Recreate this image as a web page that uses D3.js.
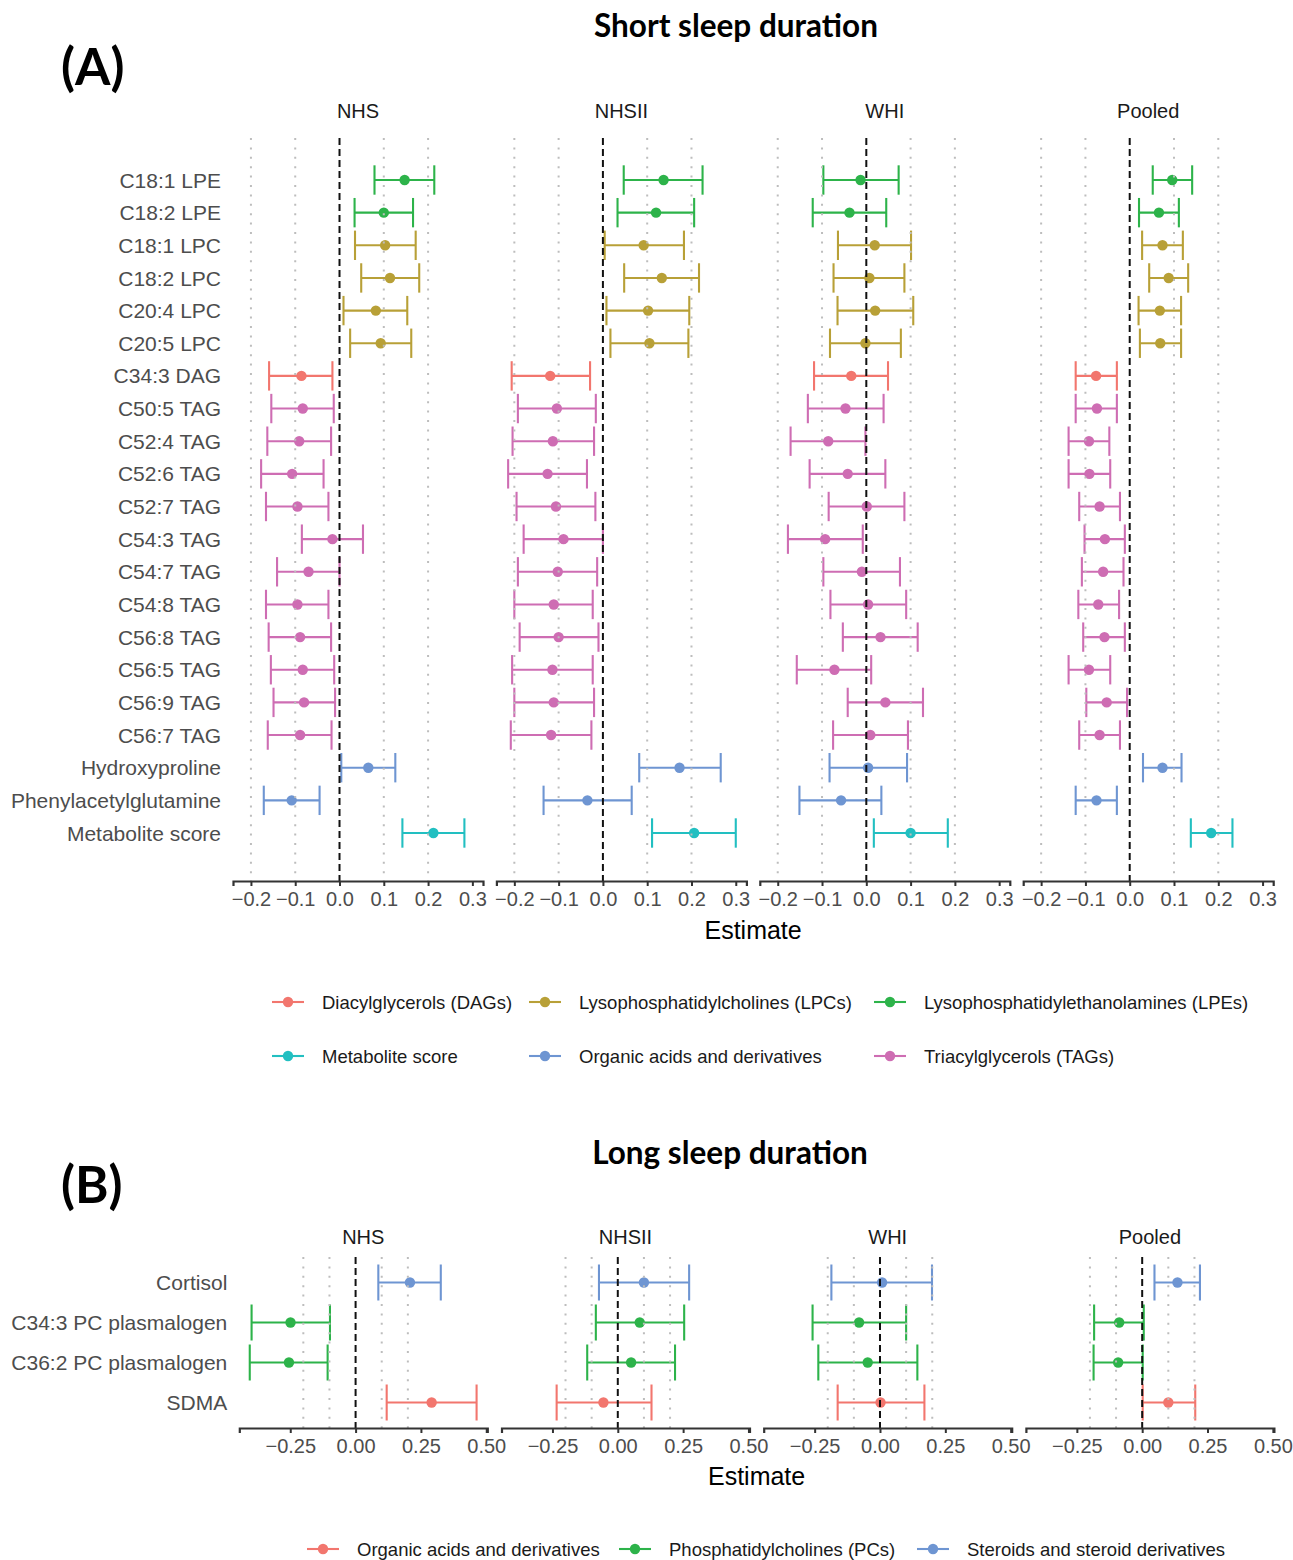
<!DOCTYPE html>
<html><head><meta charset="utf-8">
<script src="https://cdn.jsdelivr.net/npm/d3@7"></script>
<style>body{margin:0;background:#fff} svg{display:block}</style>
</head><body>
<script>
// ---------------- DATA ----------------
const cohorts = ["NHS", "NHSII", "WHI", "Pooled"];

// Panel A: short sleep duration
const metabolitesA = ["C18:1 LPE","C18:2 LPE","C18:1 LPC","C18:2 LPC","C20:4 LPC","C20:5 LPC",
  "C34:3 DAG","C50:5 TAG","C52:4 TAG","C52:6 TAG","C52:7 TAG","C54:3 TAG","C54:7 TAG","C54:8 TAG",
  "C56:8 TAG","C56:5 TAG","C56:9 TAG","C56:7 TAG","Hydroxyproline","Phenylacetylglutamine","Metabolite score"];
const classA = ["LPE","LPE","LPC","LPC","LPC","LPC","DAG","TAG","TAG","TAG","TAG","TAG","TAG","TAG",
  "TAG","TAG","TAG","TAG","ORG","ORG","SCORE"];
const classKeysA = ["DAG","LPC","LPE","SCORE","ORG","TAG"];
const classNamesA = ["Diacylglycerols (DAGs)","Lysophosphatidylcholines (LPCs)","Lysophosphatidylethanolamines (LPEs)",
  "Metabolite score","Organic acids and derivatives","Triacylglycerols (TAGs)"];
// [estimate, lower, upper]
const nhsA = [[0.147,0.079,0.214],[0.100,0.034,0.166],[0.103,0.035,0.172],[0.114,0.049,0.180],[0.082,0.009,0.153],
  [0.093,0.024,0.162],[-0.086,-0.159,-0.016],[-0.083,-0.154,-0.013],[-0.091,-0.163,-0.019],[-0.107,-0.177,-0.036],
  [-0.095,-0.166,-0.025],[-0.016,-0.085,0.053],[-0.070,-0.141,0.000],[-0.095,-0.166,-0.025],[-0.089,-0.160,-0.019],
  [-0.083,-0.155,-0.012],[-0.080,-0.149,-0.010],[-0.089,-0.162,-0.018],[0.065,0.004,0.126],[-0.108,-0.171,-0.045],
  [0.212,0.142,0.282]];
const nhs2A = [[0.137,0.047,0.225],[0.120,0.033,0.206],[0.092,0.004,0.183],[0.133,0.048,0.217],[0.102,0.008,0.195],
  [0.105,0.017,0.193],[-0.119,-0.206,-0.029],[-0.104,-0.192,-0.016],[-0.113,-0.204,-0.020],[-0.125,-0.214,-0.036],
  [-0.106,-0.195,-0.017],[-0.089,-0.179,0.000],[-0.102,-0.192,-0.013],[-0.111,-0.200,-0.023],[-0.100,-0.188,-0.010],
  [-0.114,-0.205,-0.023],[-0.111,-0.200,-0.020],[-0.117,-0.208,-0.026],[0.173,0.082,0.266],[-0.035,-0.134,0.065],
  [0.206,0.111,0.300]];
const whiA = [[-0.013,-0.097,0.073],[-0.038,-0.121,0.045],[0.019,-0.064,0.101],[0.007,-0.074,0.086],[0.020,-0.065,0.106],
  [-0.002,-0.082,0.078],[-0.034,-0.118,0.049],[-0.047,-0.132,0.039],[-0.086,-0.171,-0.002],[-0.042,-0.128,0.043],
  [0.001,-0.085,0.086],[-0.093,-0.177,-0.008],[-0.010,-0.097,0.076],[0.004,-0.081,0.090],[0.032,-0.053,0.116],
  [-0.072,-0.157,0.011],[0.043,-0.042,0.128],[0.009,-0.075,0.094],[0.004,-0.083,0.092],[-0.057,-0.151,0.034],
  [0.100,0.017,0.184]];
const pooledA = [[0.096,0.052,0.141],[0.066,0.021,0.111],[0.074,0.028,0.120],[0.088,0.044,0.132],[0.068,0.020,0.116],
  [0.069,0.023,0.116],[-0.076,-0.122,-0.029],[-0.074,-0.122,-0.029],[-0.092,-0.138,-0.046],[-0.091,-0.138,-0.044],
  [-0.068,-0.114,-0.022],[-0.056,-0.102,-0.011],[-0.060,-0.108,-0.014],[-0.071,-0.116,-0.024],[-0.057,-0.105,-0.011],
  [-0.092,-0.138,-0.044],[-0.052,-0.098,-0.006],[-0.068,-0.114,-0.022],[0.074,0.030,0.117],[-0.075,-0.122,-0.029],
  [0.184,0.138,0.232]];
const ticksA = [-0.2,-0.1,0.0,0.1,0.2,0.3];
const refLinesA = [-0.2,-0.1,0.1,0.2];

// Panel B: long sleep duration
const metabolitesB = ["Cortisol","C34:3 PC plasmalogen","C36:2 PC plasmalogen","SDMA"];
const classB = ["STER","PC","PC","ORG"];
const classKeysB = ["ORG","PC","STER"];
const classNamesB = ["Organic acids and derivatives","Phosphatidylcholines (PCs)","Steroids and steroid derivatives"];
const nhsB = [[0.208,0.087,0.326],[-0.249,-0.398,-0.098],[-0.255,-0.405,-0.107],[0.291,0.119,0.463]];
const nhs2B = [[0.100,-0.072,0.273],[0.084,-0.084,0.254],[0.051,-0.117,0.219],[-0.055,-0.234,0.129]];
const whiB = [[0.008,-0.186,0.199],[-0.080,-0.258,0.100],[-0.047,-0.236,0.143],[0.002,-0.162,0.170]];
const pooledB = [[0.135,0.047,0.221],[-0.088,-0.184,0.006],[-0.092,-0.186,0.002],[0.100,0.002,0.203]];
const ticksB = [-0.25,0.00,0.25,0.50];
const refLinesB = [-0.2,-0.1,0.1,0.2];

// ---------------- STYLE ----------------
const paletteA = ["#F2766E","#B8A037","#2DB34A","#22BFC1","#6E95D2","#CE6DB3"];
const paletteB = ["#F2766E","#2DB34A","#6E95D2"];
const FONT = "'Liberation Sans', Arial, Helvetica, sans-serif";
const TITLEFONT = "Lato, 'Open Sans', sans-serif";

const W = 1293, H = 1560;
const svg = d3.select("body").append("svg").attr("width", W).attr("height", H)
  .style("font-family", FONT);

function drawGroup(cfg) {
  const g = svg.append("g");
  const color = d3.scaleOrdinal().domain(cfg.classKeys).range(cfg.palette);
  const y = d3.scalePoint().domain(cfg.cats).range([cfg.rowTop, cfg.rowBottom]);
  const step = y.step();
  const capH = step * 0.9;

  // y labels
  g.append("g").selectAll("text").data(cfg.cats).join("text")
    .attr("x", cfg.x0s[0] - 12).attr("y", d => y(d)).attr("dy", "0.36em")
    .attr("text-anchor", "end").attr("font-size", cfg.yfs).attr("fill", "#4d4d4d").text(d => d);

  cfg.data.forEach((rows, ci) => {
    const x0 = cfg.x0s[ci];
    const x = d3.scaleLinear().domain(cfg.domain).range([x0, x0 + cfg.width]);
    const p = g.append("g");
    // facet title
    p.append("text").attr("x", x0 + cfg.width / 2).attr("y", cfg.stripY)
      .attr("text-anchor", "middle").attr("font-size", cfg.fs).attr("fill", "#1a1a1a").text(cohorts[ci]);
    const recs = rows.map((r, i) => ({cat: cfg.cats[i], cls: cfg.classes[i], est: r[0], lo: r[1], hi: r[2]}));
    const eb = p.append("g").selectAll("g").data(recs).join("g")
      .attr("stroke", d => color(d.cls)).attr("stroke-width", 2.1).attr("fill", "none");
    eb.append("line").attr("x1", d => x(d.lo)).attr("x2", d => x(d.hi)).attr("y1", d => y(d.cat)).attr("y2", d => y(d.cat));
    eb.append("line").attr("x1", d => x(d.lo)).attr("x2", d => x(d.lo)).attr("y1", d => y(d.cat) - capH / 2).attr("y2", d => y(d.cat) + capH / 2);
    eb.append("line").attr("x1", d => x(d.hi)).attr("x2", d => x(d.hi)).attr("y1", d => y(d.cat) - capH / 2).attr("y2", d => y(d.cat) + capH / 2);
    p.append("g").selectAll("circle").data(recs).join("circle")
      .attr("cx", d => x(d.est)).attr("cy", d => y(d.cat)).attr("r", 5.2).attr("fill", d => color(d.cls));
    // dotted reference lines (drawn on top)
    p.append("g").selectAll("line").data(cfg.refLines).join("line")
      .attr("x1", d => x(d)).attr("x2", d => x(d)).attr("y1", cfg.top).attr("y2", cfg.bottom)
      .attr("stroke", "#bdbdbd").attr("stroke-width", 2).attr("stroke-dasharray", "2 7.4");
    // dashed zero line
    p.append("line").attr("x1", x(0)).attr("x2", x(0)).attr("y1", cfg.top).attr("y2", cfg.bottom)
      .attr("stroke", "#111").attr("stroke-width", 2).attr("stroke-dasharray", "7 4");
    // x axis
    const ax = p.append("g").attr("transform", `translate(0,${cfg.bottom})`)
      .call(d3.axisBottom(x).tickValues(cfg.ticks).tickFormat(d3.format(cfg.fmt)).tickSizeOuter(0).tickSize(5).tickPadding(6));
    ax.select(".domain").attr("stroke", "#333").attr("stroke-width", 2.2);
    ax.selectAll(".tick line").attr("stroke", "#333").attr("stroke-width", 2);
    ax.selectAll(".tick text").attr("font-size", cfg.fs).attr("fill", "#4d4d4d").attr("font-family", FONT);
  });
  // axis title
  const xmid = (cfg.x0s[0] + cfg.x0s[3] + cfg.width) / 2;
  g.append("text").attr("x", xmid).attr("y", cfg.axisTitleY).attr("text-anchor", "middle")
    .attr("font-size", 25).attr("fill", "#000").text("Estimate");
  // legend
  const lg = g.append("g");
  cfg.legend.forEach((pos, i) => {
    const c = cfg.palette[i];
    const it = lg.append("g").attr("transform", `translate(${pos[0]},${pos[1]})`);
    it.append("line").attr("x1", -16).attr("x2", 16).attr("stroke", c).attr("stroke-width", 2.1);
    it.append("circle").attr("r", 5.2).attr("fill", c);
    it.append("text").attr("x", 34).attr("dy", "0.36em").attr("font-size", 18.5).attr("fill", "#1a1a1a").text(cfg.classNames[i]);
  });
}

// titles
svg.append("text").attr("x", 736).attr("y", 37).attr("text-anchor", "middle")
  .attr("font-family", TITLEFONT).attr("font-weight", "bold").attr("font-size", 31.5).text("Short sleep duration");
svg.append("text").attr("x", 61).attr("y", 85)
  .attr("font-family", TITLEFONT).attr("font-weight", "bold").attr("font-size", 51).text("(A)");
svg.append("text").attr("x", 730).attr("y", 1164).attr("text-anchor", "middle")
  .attr("font-family", TITLEFONT).attr("font-weight", "bold").attr("font-size", 31.5).text("Long sleep duration");
svg.append("text").attr("x", 61).attr("y", 1203)
  .attr("font-family", TITLEFONT).attr("font-weight", "bold").attr("font-size", 51).text("(B)");

drawGroup({
  cats: metabolitesA, classes: classA, classKeys: classKeysA, classNames: classNamesA, palette: paletteA,
  data: [nhsA, nhs2A, whiA, pooledA],
  x0s: [233, 496.4, 759.8, 1023.2], width: 250, domain: [-0.2405, 0.324],
  ticks: ticksA, fmt: ".1f", refLines: refLinesA,
  top: 138, bottom: 881, rowTop: 180, rowBottom: 833,
  stripY: 118, axisTitleY: 939, fs: 20, yfs: 21,
  legend: [[288,1002],[545,1002],[890,1002],[288,1056],[545,1056],[890,1056]]
});
drawGroup({
  cats: metabolitesB, classes: classB, classKeys: classKeysB, classNames: classNamesB, palette: paletteB,
  data: [nhsB, nhs2B, whiB, pooledB],
  x0s: [239.3, 501.5, 763.7, 1025.9], width: 248, domain: [-0.445, 0.504],
  ticks: ticksB, fmt: ".2f", refLines: refLinesB,
  top: 1257, bottom: 1428, rowTop: 1282.5, rowBottom: 1402.5,
  stripY: 1244, axisTitleY: 1485, fs: 20, yfs: 21,
  legend: [[323,1549],[635,1549],[933,1549]]
});
</script>
</body></html>
